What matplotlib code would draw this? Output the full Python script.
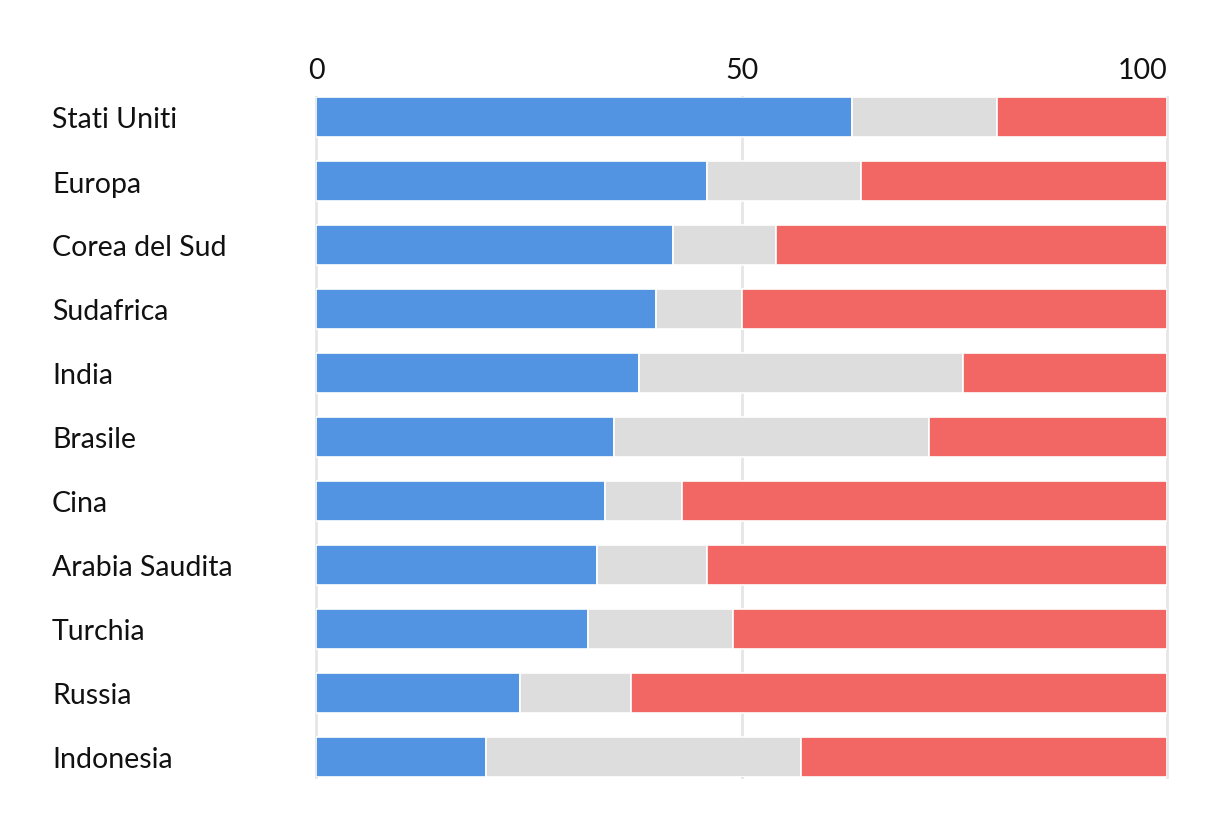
import matplotlib
matplotlib.use("Agg")
import matplotlib.pyplot as plt
import numpy as np

plt.rcParams['font.family'] = ['Lato', 'DejaVu Sans']

countries = ["Stati Uniti", "Europa", "Corea del Sud", "Sudafrica", "India", "Brasile",
             "Cina", "Arabia Saudita", "Turchia", "Russia", "Indonesia"]
blue_vals = [63, 46, 42, 40, 38, 35, 34, 33, 32, 24, 20]
gray_vals = [17, 18, 12, 10, 38, 37, 9, 13, 17, 13, 37]
red_vals = [20, 36, 46, 50, 24, 28, 57, 54, 51, 63, 43]
x_ticks = [0, 50, 100]

colors = ["#5294E2", "#DDDDDD", "#F26764"]

W, H = 1220, 828
fig = plt.figure(figsize=(W / 100, H / 100), dpi=100)
ax = fig.add_axes([316 / W, 1 - 778 / H, (1167 - 316) / W, (778 - 98) / H])

y = np.arange(len(countries))
left = np.zeros(len(countries))
for vals, c in zip([blue_vals, gray_vals, red_vals], colors):
    ax.barh(y, vals, left=left, height=0.625, color=c, edgecolor="white", linewidth=1.2, zorder=3)
    left = left + np.array(vals)

ax.set_xlim(0, 100)
ax.set_ylim(len(countries) - 1 + 0.3125, -0.3125)

for t in x_ticks:
    ax.axvline(t, color="#E6E6E6", linewidth=2, zorder=1, clip_on=False)

ax.xaxis.tick_top()
ax.set_xticks(x_ticks)
ax.set_xticklabels([str(t) for t in x_ticks], fontsize=20.5, color="#111111")
labs = ax.get_xticklabels()
labs[-1].set_horizontalalignment("right")
ax.tick_params(axis="x", length=0, pad=10)

ax.set_yticks(y)
ax.set_yticklabels(countries, fontsize=20.5, color="#111111", ha="left")
ax.tick_params(axis="y", length=0, pad=(316 - 52) * 0.72)

for s in ax.spines.values():
    s.set_visible(False)

fig.savefig("out.png", dpi=100, facecolor="white")
